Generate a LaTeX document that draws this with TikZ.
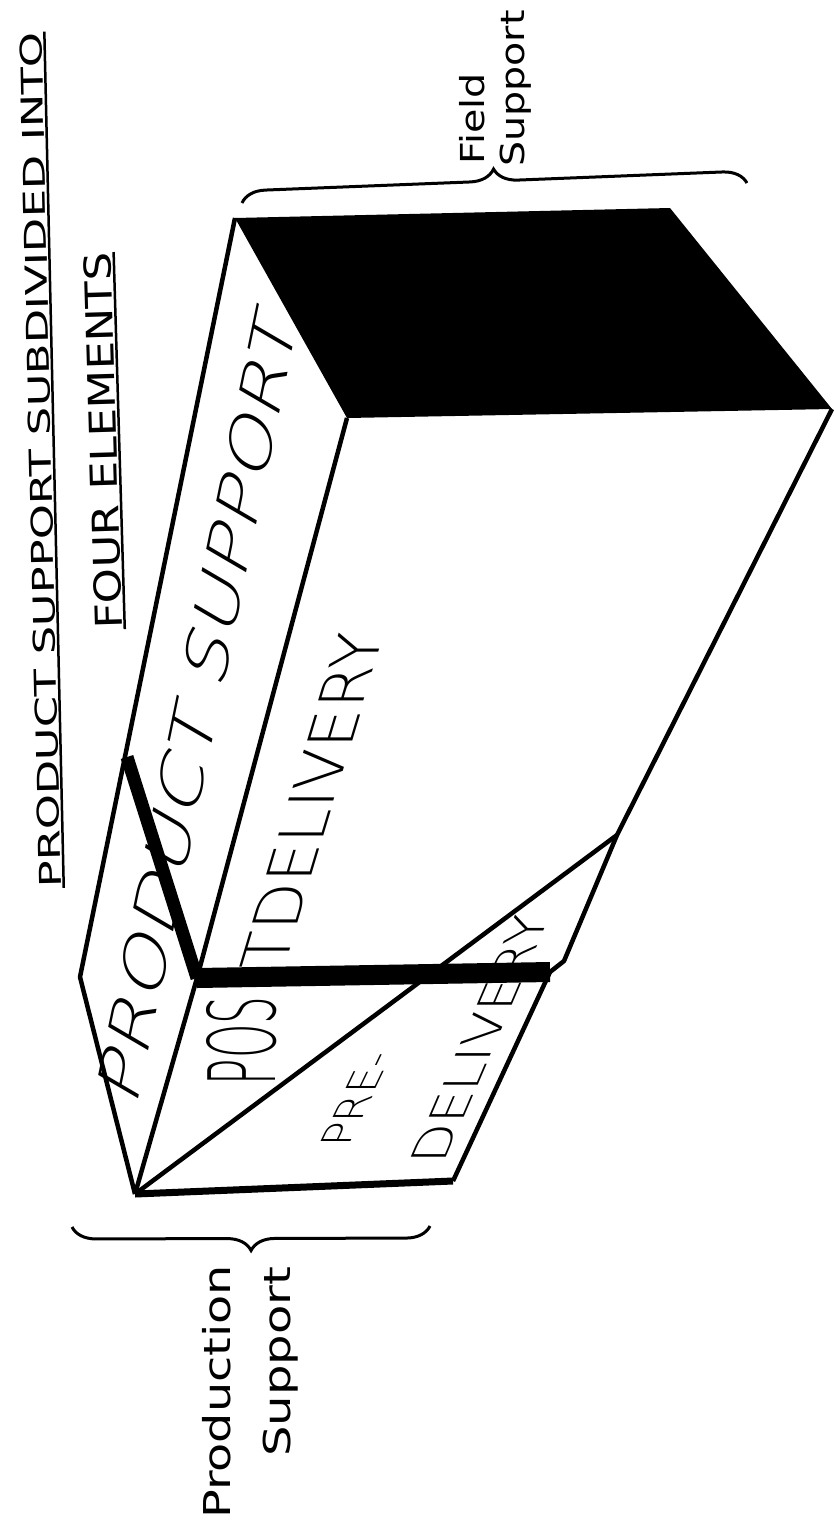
\documentclass[tikz,border=0pt]{standalone}
\usepackage{fontspec}
\usetikzlibrary{decorations.pathreplacing}
\newfontfamily\dejavu{DejaVu Sans}
\newfontfamily\dejavuthin{DejaVu Sans ExtraLight}
\newfontfamily\handslant[FakeSlant=0.25]{DejaVu Sans ExtraLight}

\begin{document}
\begin{tikzpicture}[x=1pt, y=-1pt,
    edge/.style={line width=4.5pt, line join=round},
    heavy/.style={line width=13pt},
    heading/.style={inner xsep=0pt, inner ysep=2pt, font=\dejavu},
    uline/.style={line width=2.5pt},
    lbl/.style={inner sep=0pt, font=\dejavu},
    facetext/.style={inner sep=0pt, font=\dejavuthin},
    brace/.style={decorate, decoration={brace, amplitude=24pt}, line width=3pt}]
    \useasboundingbox (0,0) rectangle (834,1531);

    \coordinate (F) at (235,218);
    \coordinate (Q) at (670,208);
    \coordinate (K) at (832,409);
    \coordinate (J) at (347,418);
    \coordinate (E) at (127,757);
    \coordinate (C) at (80,977);
    \coordinate (D) at (197,978);
    \coordinate (A) at (135,1194);
    \coordinate (H) at (453,1181);
    \coordinate (G) at (550,972);
    \coordinate (M) at (564,961);
    \coordinate (L) at (617,835);

    \node[heading, rotate=91.3] (title) at (40.5,460)
        {\fontsize{30}{36}\selectfont\scalebox{1.49}[1]{PRODUCT SUPPORT SUBDIVIDED INTO}};
    \node[heading, rotate=91.7] (subtitle) at (103,441)
        {\fontsize{37}{44}\selectfont\scalebox{1.21}[1]{FOUR ELEMENTS}};
    \draw[uline] (title.south west) -- (title.south east);
    \draw[uline] (subtitle.south west) -- (subtitle.south east);

    \fill (F) -- (Q) -- (K) -- (J) -- cycle;

    \node[rotate=78.4, inner sep=0pt, font=\handslant] (script) at (196,712)
        {\fontsize{60}{66}\selectfont\scalebox{1.36}[1]{PRODUCT SUPPORT}};
    \node[facetext, cm={0.3,1,-1,0,(0,0)}] (postdel) at (312,800)
        {\fontsize{62}{70}\selectfont TDELIVERY};
    \node[facetext, rotate=90] (pos) at (242,1041)
        {\fontsize{93}{100}\selectfont\scalebox{0.47}[1]{POS}};
    \node[facetext, cm={0.48,1,-1,0,(0,0)}] (pre) at (356,1100)
        {\fontsize{41}{48}\selectfont PRE-};
    \node[facetext, cm={0.43,1,-1,0,(0,0)}] (predel) at (480,1039)
        {\fontsize{48}{56}\selectfont\scalebox{1.08}[1]{DELIVERY}};

    \draw[edge] (F) -- (C) -- (A);
    \draw[edge] (J) -- (D) -- (A);
    \draw[edge] (K) -- (L) -- (M) -- (G);
    \draw[edge] (H) -- (G);
    \draw[edge] (A) -- (L);
    \draw[edge, line width=7pt] (A) -- (H);
    \draw[heavy] (E) -- (D);
    \draw[line width=20pt] (D) -- (G);

    \coordinate (fb1) at (242,203);
    \coordinate (fb2) at (747,183);
    \coordinate (pb1) at (430,1226);
    \coordinate (pb2) at (72,1227);
    \draw[brace] (fb1) -- (fb2);
    \draw[brace] (pb1) -- (pb2);

    \node[lbl, rotate=90, anchor=base west] (field) at (484,165)
        {\fontsize{33}{40}\selectfont\scalebox{1.2}[1]{Field}};
    \node[lbl, rotate=90, anchor=base west] (fieldsup) at (524,167)
        {\fontsize{33}{40}\selectfont\scalebox{1.2}[1]{Support}};
    \node[lbl, rotate=90, anchor=base west] (prod) at (230,1519)
        {\fontsize{37}{44}\selectfont\scalebox{1.29}[1]{Production}};
    \node[lbl, rotate=90, anchor=base west] (prodsup) at (290,1457)
        {\fontsize{37}{44}\selectfont\scalebox{1.3}[1]{Support}};
\end{tikzpicture}
\end{document}
